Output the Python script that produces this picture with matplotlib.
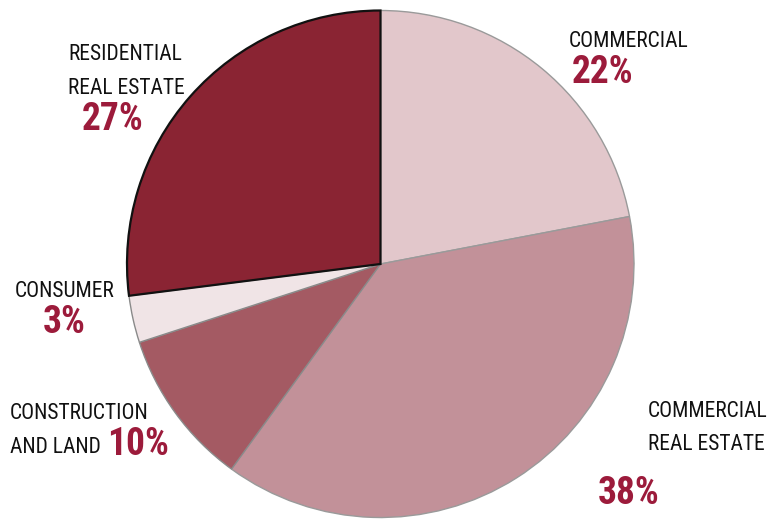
import matplotlib
matplotlib.use("Agg")
import matplotlib.pyplot as plt
from matplotlib import font_manager

# Loan portfolio composition
categories = ["COMMERCIAL", "COMMERCIAL\nREAL ESTATE", "CONSTRUCTION\nAND LAND",
              "CONSUMER", "RESIDENTIAL\nREAL ESTATE"]
shares = [22, 38, 10, 3, 27]
colors = ["#E2C7CB", "#C29199", "#A45A63", "#F0E4E6", "#8A2433"]
edge_colors = ["#9A9A9A", "#9A9A9A", "#8A8A8A", "#8A8A8A", "#111111"]

W, H = 769, 519
fig = plt.figure(figsize=(W / 100, H / 100), dpi=100)


def pick_condensed():
    """Find a narrow sans face; fall back to Roboto/DejaVu."""
    entries = font_manager.fontManager.ttflist
    names = {f.name for f in entries}
    for fam in ["Roboto Condensed", "Liberation Sans Narrow", "Open Sans Condensed",
                "DejaVu Sans Condensed", "Noto Sans Condensed", "Lato Condensed"]:
        if fam in names:
            return fam, "normal", True
    for f in entries:
        st = f.stretch
        if isinstance(st, str) and st in ("condensed", "semi-condensed", "extra-condensed"):
            if f.name in ("Roboto", "Noto Sans", "Open Sans", "DejaVu Sans", "Lato", "Inter"):
                return f.name, st, True
    for fam in ["Roboto", "DejaVu Sans"]:
        if fam in names:
            return fam, "normal", False
    return "DejaVu Sans", "normal", False


family, stretch, narrow = pick_condensed()

cx, cy, r = 380.5, 264.0, 253.5
ax = fig.add_axes([(cx - r) / W, (H - cy - r) / H, 2 * r / W, 2 * r / H])
wedges, _ = ax.pie(shares, colors=colors, startangle=90, counterclock=False,
                   radius=1.0, wedgeprops=dict(linewidth=1.0))
for w, ec in zip(wedges, edge_colors):
    w.set_edgecolor(ec)
wedges[-1].set_linewidth(1.6)
wedges[-1].set_zorder(3)
ax.set_xlim(-1, 1)
ax.set_ylim(-1, 1)
ax.set_aspect("equal")
ax.axis("off")

pct_color = "#9C1B3B"
label_size = 15.5 if narrow else 13
pct_size = 27 if narrow else 21


def px(x, y):
    return x / W, 1 - y / H


def label(x, y, s):
    fig.text(*px(x, y), s, ha="left", va="baseline", fontsize=label_size,
             color="#111111", family=[family, "DejaVu Sans"], fontstretch=stretch)


def pct(x, y, v):
    fig.text(*px(x, y), f"{v}%", ha="left", va="baseline", fontsize=pct_size,
             fontweight="bold", color=pct_color, family=[family, "DejaVu Sans"],
             fontstretch=stretch)


# Commercial
label(569, 47, "COMMERCIAL")
pct(572, 83, shares[0])
# Commercial real estate
label(648, 417, "COMMERCIAL")
label(648, 450, "REAL ESTATE")
pct(598, 504, shares[1])
# Construction and land
label(10, 419, "CONSTRUCTION")
label(10, 453, "AND LAND")
pct(107, 455, shares[2])
# Consumer
label(15, 297, "CONSUMER")
pct(43, 333, shares[3])
# Residential real estate
label(68, 60, "RESIDENTIAL")
label(68, 94, "REAL ESTATE")
pct(82, 130, shares[4])

fig.savefig("out.png", dpi=100)
